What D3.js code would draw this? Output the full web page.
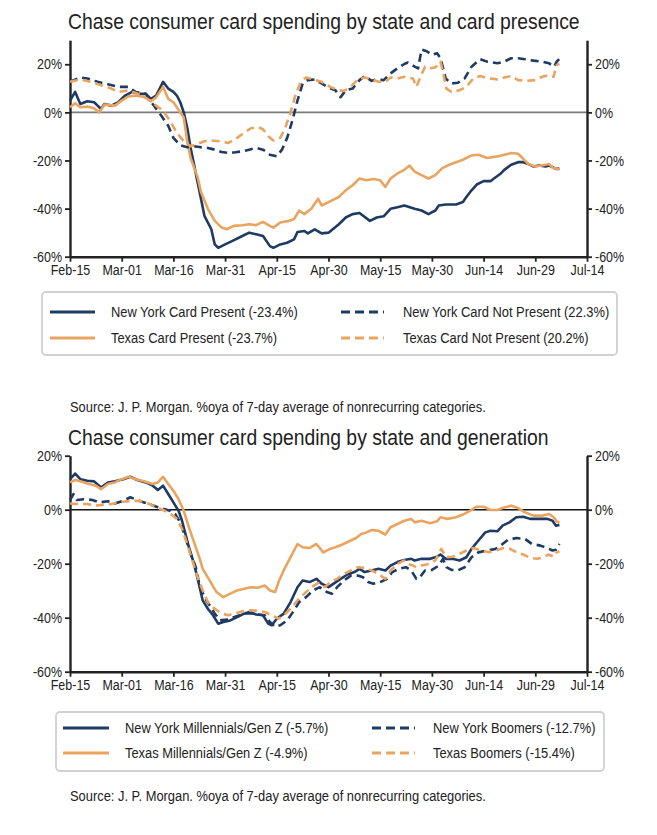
<!DOCTYPE html>
<html><head><meta charset="utf-8">
<script src="https://cdn.jsdelivr.net/npm/d3@7"></script>
<style>
body{margin:0;background:#fff}
svg text{font-family:"Liberation Sans",Arial,sans-serif;fill:#222}
</style></head><body><svg id="c" width="657" height="835"></svg>
<script>
// x axis: days since Feb-15 (2020)
const tickDays = [0,15,30,45,60,75,90,105,120,135,150];
const tickLabels = ["Feb-15","Mar-01","Mar-16","Mar-31","Apr-15","Apr-30","May-15","May-30","Jun-14","Jun-29","Jul-14"];

// ---- Chart 1: card presence ----
const nyPresentDays = [0,1.5,3,5,7,8,9,10,12,14,16,18,20,22,23.5,25,27,28.5,30,31,32,33,34,35,36,37,38,39,41,42,43,45,47,50,52,54,56,58,59,61,63,65,66,68,69,71,73,75,78,80,82,84,87,89,91,93,95,97,100,102,104,106,107,109,112,114,115,116.5,118,120,122,123,125,126,128,130,131.5,133,134.5,136,138,139,141,142];
const nyPresent = [4.9,8.5,3.5,4.6,4.2,2.8,1.4,3.5,2.8,4.2,7,8.5,7.7,7.7,5.6,7,12.7,9.9,8.5,7,4.2,0,-6.3,-14.8,-21.8,-28.9,-35.9,-43,-48.6,-54.9,-56.3,-54.9,-53.5,-51.4,-50,-50.7,-51.4,-55.6,-56.3,-54.9,-54.2,-52.8,-49.7,-49.3,-50.3,-48.6,-50.3,-50,-46.5,-43.7,-42.3,-41.8,-45.1,-43.7,-43.2,-40.1,-39.4,-38.7,-40.1,-40.8,-42.3,-40.8,-38.7,-38.3,-38.3,-37.3,-35.2,-32.4,-30,-28.6,-28.6,-27.5,-25.4,-23.9,-21.8,-20.7,-20.7,-21.5,-22.5,-22.1,-22.5,-22.1,-23.5,-23.4];

const txPresentDays = [0,1.5,3,5,7,8.5,10,13,15,17,19,22,23.5,25,27,28.5,30,31,33,34,35,37,38,40,42,44,45.5,47.5,50,52,54,56,58,59,61,63.5,65,66.5,68,70,72,73,75,78,80,82,84,86,88,90,91.5,93,95,97,98.5,100,102,104,106,108,110,112,114,116.5,118.5,121,124,126,128,130,131.5,133,135,137,139,140,142];
const txPresent = [2.1,3.8,2.1,2.4,1.7,0,3.2,2.8,4.9,6.6,7,6.3,4.6,6.3,10.6,5.6,4.2,2.1,-2.1,-12,-19,-26.8,-33.1,-40.1,-45.1,-47.9,-48.6,-47.2,-46.9,-46.5,-46.9,-45.5,-47.2,-47.9,-45.8,-45.1,-44.4,-40.8,-42.3,-40.1,-35.9,-38.7,-37.3,-35.2,-32.4,-30.3,-27.5,-28.2,-27.7,-28.2,-31,-27.5,-25.4,-23.9,-22.1,-24.6,-26.1,-27.5,-26.1,-23.2,-21.8,-20.7,-19.7,-17.9,-17.6,-19,-18.3,-17.6,-16.9,-17.2,-19.3,-21.5,-22.5,-22.1,-21.5,-23,-23.7];

const nyNotPresentDays = [0,3,5,8,11,14,17,19,22,24,26.5,28.5,30,32,34,36,38,40,42,44,46,48,50,52,54,56,58,60,61.5,63,64.5,66,67.5,69,71,73,75,77,78.5,80,82,84,85.5,87.5,89,91,93,95,97,98,100,101,102,103.5,105,106.5,107.5,109,110.5,112.5,114.5,116.5,119,121,124,126,128,130,132,134.5,137,139,140.5,141.2,142];
const nyNotPresent = [12.7,14.5,14.1,12.7,11.7,10.6,10.6,8.5,7.7,3.5,-1.4,-5.6,-10.6,-13.7,-14.5,-14.1,-14.5,-14.8,-15.5,-16.5,-16.9,-16.6,-16.2,-15.5,-14.8,-15.5,-17.6,-18.3,-15.5,-10.6,-3.5,4.9,12,13.4,13.7,12,10.3,9.2,6.3,9.2,9.9,13.4,15.1,13.1,13.7,13.4,16.2,18.3,20.1,20.7,19,18.3,26.1,25.4,23.9,24.6,22.5,14.1,12,12.3,14.1,19,22.1,21.1,20.4,21.1,22.5,22.5,22.1,21.5,21.1,20.4,19,21.1,22.3];

const txNotPresentDays = [0,3,6,9,12,14,17,20,22.5,25,27,29,31,33,35,37,39,41,43.5,46,48.5,50.5,52.5,54.5,56,57.5,59,61,62.5,64,65.5,67,68.5,70.5,73,75.5,77.5,79.5,81.5,83.5,85.5,87.5,89.5,91.5,93,95,97,99.5,100.5,101.5,103,104.5,106,107.5,108.2,109.2,110.7,113,115,117,119,121.5,124,126,128,130,132.5,135,137,139,140.3,141.2,142];
const txNotPresent = [12.7,13.7,12.7,11.3,9.9,8.5,9.2,7.5,5.6,2.8,0.7,-3.5,-8.5,-12,-14.1,-13.1,-12,-11.7,-12,-12.7,-10.6,-8.5,-6.6,-6.1,-7,-9.9,-11.7,-10.6,-6.3,0,7.7,12.7,14.5,13.7,12.7,10.6,9.4,8.9,10.6,13.7,14.5,13.7,12.7,12.7,14.5,14.1,14.8,14.1,10.6,14.1,19,18.3,18.7,21.1,16.9,9.9,8.5,9.2,10.6,14.1,15.1,14.1,13.7,14.5,15.1,13.4,13.1,13.4,14.8,15.5,14.8,19.7,20.2];

// ---- Chart 2: generation ----
const nyMillDays = [0,1.5,3,5,7,9,11,13,15.5,17.5,19.5,22,24,25.5,27,28.5,30,31.5,32.5,33.5,34.5,36,37.5,38.5,40,41.5,43,44.5,46.5,48.5,50.5,52,54,56,57.5,58.5,60,62,64,66,67.5,69.5,71.5,73,75,76.5,78.5,80.5,82.5,84,85.5,87.5,89.5,91.5,93,95,97,99,100,102,104.5,106.5,107.5,109,111,113,115,116.5,118.5,120.5,122,124,125.5,127.5,129.5,131.5,133.5,136,138.5,140,141,142];
const nyMill = [11.3,13.4,11.3,10.7,10.5,8.2,10.1,10.5,11.3,12.2,11,10.1,8.9,7.3,8.9,5.8,2.7,-0.4,-4.1,-9,-13.9,-20.1,-28.1,-33.6,-36.7,-39.1,-42.2,-41.6,-41,-39.8,-38.5,-37.9,-38.8,-39.1,-42.2,-42.8,-40.4,-38.5,-34.2,-28.7,-26.2,-26.8,-25.6,-27.4,-28.7,-27.4,-25.6,-24,-23.1,-21.9,-23.1,-22.5,-21.9,-22.5,-20.7,-19.4,-18.6,-18.2,-18.8,-18.2,-18.2,-17.4,-16.6,-18.2,-18.2,-18.8,-17.6,-14.5,-11.4,-8.4,-7.8,-8,-5.9,-4.7,-2.8,-2.6,-3.4,-3.4,-3.4,-4.1,-5.9,-5.7];

const txMillDays = [0,1.5,3,5.5,7.5,9,11,13,15,17,19,21.5,24,25.5,27,28.5,30,31.5,33,34.5,36,37.5,38.5,40.5,42.5,44.5,46.5,48.5,50.5,52.5,54.5,56.5,58,59.5,60.5,62,64,66,67.5,69.5,71.5,73.5,75.5,77,79,81,83,84.5,86,87.5,89.5,91.5,93,95,97,99,100,102,104.5,106.5,107.5,109.5,112,114,116,118,120,122,124,125.5,128,130,132,134.5,137,139,140.3,141.2,142];
const txMill = [10.1,11,10.5,9.5,8.9,7.6,9.5,10.1,11.3,12.2,11.3,10.5,9.5,10.1,12.2,9.5,7,3.9,-0.4,-6.5,-12.1,-17.6,-21.9,-26.2,-30.5,-32.4,-31.1,-29.9,-29.3,-28.7,-28.9,-28.1,-29.9,-30.5,-26.8,-22.5,-17.6,-12.7,-13.9,-14.2,-12.7,-15.8,-14.5,-13.9,-12.9,-11.7,-10.5,-9,-8.4,-7.5,-7.8,-9.2,-6.5,-5.3,-4.1,-3.4,-4.7,-4.1,-5,-4.3,-2.8,-3.4,-2.8,-1.8,-0.4,1.1,1.1,-0.1,-0.1,0.6,1.5,0.6,-1,-2.2,-2.2,-1.6,-2.8,-4.3,-4.9];

const nyBoomDays = [0,1,2,4,6.5,8.5,11,13,15.5,17.5,19.5,21.5,23.5,25.5,27.5,29,30.5,32,33.5,35,36.5,37.5,39,40.5,42,43.5,45.5,47.5,50.5,52.5,54.5,56.5,58,59.5,61,63,65,66.5,68.5,70.5,72.5,74.5,76,77.5,79.5,81.5,83.5,85,86.5,88,90,92,93.5,95.5,97.5,99,100.5,101.5,103,105,107,108.2,109.2,110.7,112.5,114.5,116.5,118.5,121,123.5,125.5,127,129.5,132,134,136.5,138.5,140,141,142];
const nyBoom = [3.6,5.8,3.6,3.9,3.6,2.7,3.1,2.3,3.3,4.6,3.6,2.7,1.8,0.9,0.2,-0.4,-1.6,-4.7,-10.2,-16.4,-21.3,-27.4,-32.4,-35.4,-38.5,-41,-40.7,-39.8,-38.5,-38.3,-38.8,-39.1,-41.6,-43.4,-42.8,-41,-37.3,-34.2,-32.4,-29.9,-28.7,-30.5,-31.1,-28.7,-26.2,-24.4,-24.4,-25,-26.8,-27.4,-26.8,-25.6,-23.1,-21.9,-21.3,-22.5,-25.6,-25,-22.5,-22.3,-20.7,-18.2,-21.3,-22.3,-22.5,-21.3,-17.6,-15.8,-15.1,-14.5,-12.7,-11.2,-10.5,-10.8,-12.7,-13.3,-14.2,-15.1,-14.8,-12.7];

const txBoomDays = [0,2.5,5,7,9.5,12,14,16.5,19,21,23,25,27,29,31,32.5,34,35.5,37,38.5,40,42,44,46,48,50.5,52.5,54.5,56.5,58.5,60.5,62,64,66,68,70,72,74,75.5,77.5,79.5,81.5,83.5,85.5,87.5,89.5,91.5,93,95,97,98,99.5,100.5,102,104,106,107.7,109.2,111,113,115,117,119,121.5,124,125.7,127.7,129.6,131.5,133.5,135.5,137.4,138.8,140.3,141.2,142];
const txBoom = [2.3,2.1,2.1,1.5,1.8,2.1,2.7,3.1,3.3,3.1,2.1,0.9,-0.1,-1.4,-3.4,-7.1,-12.7,-18.8,-25,-29.9,-34.2,-36.7,-38.5,-39.1,-38.3,-37.5,-37.3,-37.5,-37.9,-39.1,-40.4,-39.1,-36.7,-33.6,-31.1,-28.7,-27.2,-28.7,-26.8,-25.6,-23.8,-22.5,-21.3,-21.5,-22.5,-23.8,-25.6,-22.5,-20.1,-18.8,-20.1,-20.7,-21.3,-20.7,-20.1,-18.8,-14.5,-17.6,-17.4,-16.4,-15.1,-14.2,-14.9,-15.8,-14.9,-14.2,-14.5,-15.8,-16.6,-17.8,-18.2,-17.6,-16.6,-17.4,-15.8,-15.4];

const navy = "#1f3a63", orange = "#e9a460";
const svg = d3.select("#c");

function zip(days, vals){ return days.map((d,i)=>[d, vals[i]]); }

function drawChart(cfg){
  const x = d3.scaleLinear().domain([0,150]).range([70,587]);
  const y = d3.scaleLinear().domain(cfg.domain).range(cfg.yRange);
  const g = svg.append("g");

  g.append("text").attr("class","title").attr("x",68).attr("y",cfg.titleY).attr("font-size",22.5).attr("fill","#111").text(cfg.title);

  g.append("line").attr("x1",x(0)).attr("x2",x(150)).attr("y1",y(0)).attr("y2",y(0))
    .attr("stroke",cfg.zeroColor).attr("stroke-width",1.6);

  const yTicks = cfg.yTicks;
  const fmt = d=>d+"%";
  const axL = g.append("g").attr("transform","translate(70,0)")
    .call(d3.axisLeft(y).tickValues(yTicks).tickFormat(fmt).tickSize(5).tickSizeOuter(0));
  const axR = g.append("g").attr("transform","translate(587,0)")
    .call(d3.axisRight(y).tickValues(yTicks).tickFormat(fmt).tickSize(5).tickSizeOuter(0));
  const axB = g.append("g").attr("transform",`translate(0,${cfg.yRange[0]})`)
    .call(d3.axisBottom(x).tickValues(tickDays).tickFormat((d,i)=>tickLabels[i]).tickSize(5).tickSizeOuter(0));
  [axL,axR,axB].forEach(a=>{
    a.select(".domain").attr("stroke","#222").attr("stroke-width",2.4);
    a.selectAll(".tick line").attr("stroke","#222").attr("stroke-width",1.8);
    a.selectAll("text").attr("font-size",14.5).attr("fill","#222")
      .style("font-family",'"Liberation Sans",Arial,sans-serif');
  });

  const line = d3.line().x(d=>x(d[0])).y(d=>y(d[1]));
  cfg.series.forEach(s=>{
    g.append("path").datum(zip(s.days,s.vals)).attr("d",line)
      .attr("fill","none").attr("stroke",s.color).attr("stroke-width",2.6)
      .attr("stroke-linejoin","round")
      .attr("stroke-dasharray",s.dash?"8,5":null);
  });

  const L = cfg.legend;
  g.append("rect").attr("x",L.x).attr("y",L.y).attr("width",L.w).attr("height",L.h).attr("rx",4)
    .attr("fill","#fff").attr("stroke","#d0d0d0").attr("stroke-width",1.8);
  cfg.series.forEach((s,i)=>{
    const col = L.cols[s.col], ry = L.rows[s.row];
    g.append("line").attr("x1",col.lx1).attr("x2",col.lx2).attr("y1",ry).attr("y2",ry)
      .attr("stroke",s.color).attr("stroke-width",2.8).attr("stroke-dasharray",s.dash?"9,5":null);
    g.append("text").attr("x",col.tx).attr("y",ry).attr("dy","0.35em").attr("font-size",15).text(s.name);
  });

  g.append("text").attr("x",70).attr("y",cfg.sourceY).attr("font-size",15).text("Source: J. P. Morgan. %oya of 7-day average of nonrecurring categories.");
}

drawChart({
  title:"Chase consumer card spending by state and card presence", titleY:29,
  domain:[-60,30], yRange:[256.7,40.2], yTicks:[-60,-40,-20,0,20], zeroColor:"#7a7a7a",
  series:[
    {name:"New York Card Present (-23.4%)", days:nyPresentDays, vals:nyPresent, color:navy, dash:false, col:0,row:0},
    {name:"Texas Card Present (-23.7%)", days:txPresentDays, vals:txPresent, color:orange, dash:false, col:0,row:1},
    {name:"New York Card Not Present (22.3%)", days:nyNotPresentDays, vals:nyNotPresent, color:navy, dash:true, col:1,row:0},
    {name:"Texas Card Not Present (20.2%)", days:txNotPresentDays, vals:txNotPresent, color:orange, dash:true, col:1,row:1}
  ],
  legend:{x:42,y:292,w:575,h:63,rows:[312,338],cols:[{lx1:50,lx2:95,tx:111},{lx1:341,lx2:384,tx:403}]},
  sourceY:412
});

drawChart({
  title:"Chase consumer card spending by state and generation", titleY:445,
  domain:[-60,20], yRange:[671.7,455.7], yTicks:[-60,-40,-20,0,20], zeroColor:"#111",
  series:[
    {name:"New York Millennials/Gen Z (-5.7%)", days:nyMillDays, vals:nyMill, color:navy, dash:false, col:0,row:0},
    {name:"Texas Millennials/Gen Z (-4.9%)", days:txMillDays, vals:txMill, color:orange, dash:false, col:0,row:1},
    {name:"New York Boomers (-12.7%)", days:nyBoomDays, vals:nyBoom, color:navy, dash:true, col:1,row:0},
    {name:"Texas Boomers (-15.4%)", days:txBoomDays, vals:txBoom, color:orange, dash:true, col:1,row:1}
  ],
  legend:{x:56,y:712,w:548,h:59,rows:[728,753],cols:[{lx1:63,lx2:109,tx:125},{lx1:372,lx2:415,tx:433}]},
  sourceY:801
});

// emulate a narrow typeface: scale glyphs horizontally about each text's anchor
const t0 = svg.select("text.title").node();
const sx = Math.min(1, 512 / t0.getComputedTextLength());
svg.selectAll("text").each(function(){
  const el = d3.select(this);
  const tx = +el.attr("x") || 0, ty = +el.attr("y") || 0;
  const prev = el.attr("transform") || "";
  el.attr("x",0).attr("y",0).attr("transform", `${prev} translate(${tx},${ty}) scale(${sx},1)`);
});
</script></body></html>
